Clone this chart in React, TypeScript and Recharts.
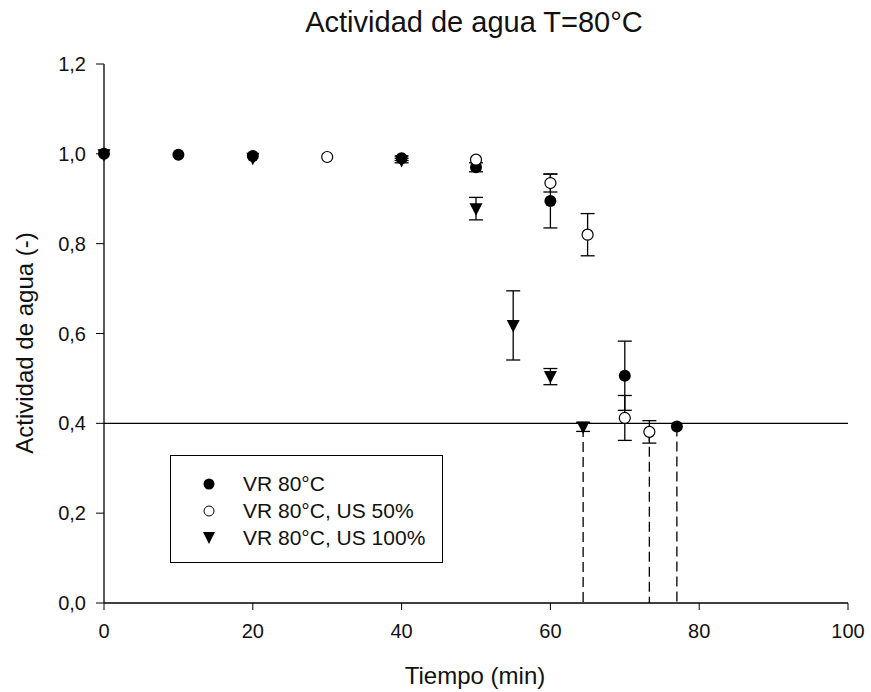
import React from "react";
import {
  ScatterChart,
  Scatter,
  XAxis,
  YAxis,
  ErrorBar,
  ReferenceLine,
  Legend,
} from "recharts";

// tiempo (min), actividad de agua (-), error (+/-)
const vrTime = [0, 10, 20, 40, 50, 60, 70, 77];
const vrAw = [1.0, 0.998, 0.995, 0.99, 0.97, 0.895, 0.506, 0.393];
const vrErr = [null, null, null, 0.005, 0.01, 0.06, 0.077, null];

const us50Time = [30, 50, 60, 65, 70, 73.3];
const us50Aw = [0.993, 0.987, 0.935, 0.82, 0.412, 0.381];
const us50Err = [null, null, 0.02, 0.047, 0.05, 0.025];

const us100Time = [0, 20, 40, 50, 55, 60, 64.4];
const us100Aw = [0.998, 0.99, 0.985, 0.878, 0.618, 0.504, 0.392];
const us100Err = [null, null, 0.005, 0.025, 0.077, 0.018, 0.01];

// tiempo en que se alcanza aw = 0,4
const endTime = [64.4, 73.3, 77];
const endAw = [0.392, 0.381, 0.393];

const limitAw = 0.4;
const xTicks = [0, 20, 40, 60, 80, 100];
const yTicks = [0, 0.2, 0.4, 0.6, 0.8, 1.0, 1.2];

const seriesNames = ["VR 80°C", "VR 80°C, US 50%", "VR 80°C, US 100%"];

const FONT = '"Liberation Sans", Arial, sans-serif';

const toRows = (t: number[], aw: number[], err: (number | null)[]) =>
  t.map((x, i) => ({ t: x, aw: aw[i], err: err[i] }));

const vrData = toRows(vrTime, vrAw, vrErr);
const us50Data = toRows(us50Time, us50Aw, us50Err);
const us100Data = toRows(us100Time, us100Aw, us100Err);

const FilledDot = (p: any) => <circle cx={p.cx} cy={p.cy} r={6} fill="#000" />;
const OpenDot = (p: any) => (
  <circle cx={p.cx} cy={p.cy} r={5.5} fill="#fff" stroke="#000" strokeWidth={1.2} />
);
const DownTri = (p: any) => (
  <path
    d={`M${p.cx - 6.5},${p.cy - 5.5} L${p.cx + 6.5},${p.cy - 5.5} L${p.cx},${p.cy + 7} Z`}
    fill="#000"
  />
);

function LegendBox() {
  const icons = [
    <circle cx={10} cy={10} r={5.5} fill="#000" />,
    <circle cx={10} cy={10} r={5} fill="#fff" stroke="#000" strokeWidth={1} />,
    <path d="M4,4 L16,4 L10,16 Z" fill="#000" />,
  ];
  return (
    <div
      style={{
        border: "1px solid #000",
        background: "#fff",
        width: 273,
        height: 108,
        boxSizing: "border-box",
        paddingTop: 14,
        fontFamily: FONT,
        fontSize: 21,
        color: "#111",
      }}
    >
      {seriesNames.map((name, i) => (
        <div key={name} style={{ display: "flex", alignItems: "center", height: 27 }}>
          <svg width={20} height={20} style={{ marginLeft: 28, marginRight: 24 }}>
            {icons[i]}
          </svg>
          <span>{name}</span>
        </div>
      ))}
    </div>
  );
}

export default function App() {
  return (
    <div style={{ position: "absolute", left: 0, top: 0, width: 871, height: 692, background: "#fff" }}>
      <ScatterChart
        width={871}
        height={692}
        margin={{ top: 64, right: 23, bottom: 0, left: 0 }}
      >
        <XAxis
          type="number"
          dataKey="t"
          domain={[0, 100]}
          ticks={xTicks}
          height={89}
          tickSize={7}
          tickMargin={14}
          axisLine={{ stroke: "#000", strokeWidth: 1.3 }}
          tickLine={{ stroke: "#000" }}
          tick={{ fill: "#111", fontSize: 20, fontFamily: FONT }}
        />
        <YAxis
          type="number"
          dataKey="aw"
          domain={[0, 1.2]}
          ticks={yTicks}
          width={104}
          tickSize={8}
          tickMargin={10}
          axisLine={{ stroke: "#000", strokeWidth: 1.3 }}
          tickLine={{ stroke: "#000" }}
          tick={{ fill: "#111", fontSize: 20, fontFamily: FONT }}
          tickFormatter={(v: number) => v.toFixed(1).replace(".", ",")}
        />
        <ReferenceLine y={limitAw} stroke="#000" strokeWidth={1.3} />
        {endTime.map((x, i) => (
          <ReferenceLine
            key={x}
            segment={[
              { x, y: endAw[i] },
              { x, y: 0 },
            ]}
            stroke="#000"
            strokeWidth={1.3}
            strokeDasharray="10 5"
          />
        ))}
        <Scatter name={seriesNames[2]} data={us100Data} shape={DownTri} isAnimationActive={false}>
          <ErrorBar dataKey="err" direction="y" width={7} stroke="#000" strokeWidth={1.3} />
        </Scatter>
        <Scatter name={seriesNames[0]} data={vrData} shape={FilledDot} isAnimationActive={false}>
          <ErrorBar dataKey="err" direction="y" width={7} stroke="#000" strokeWidth={1.3} />
        </Scatter>
        <Scatter name={seriesNames[1]} data={us50Data} shape={OpenDot} isAnimationActive={false}>
          <ErrorBar dataKey="err" direction="y" width={7} stroke="#000" strokeWidth={1.3} />
        </Scatter>
        <Legend
          layout="horizontal"
          verticalAlign="middle"
          content={() => <LegendBox />}
          wrapperStyle={{ position: "absolute", left: 170, top: 455, width: 273, height: 108 }}
        />
      </ScatterChart>
      <svg
        width={871}
        height={692}
        style={{ position: "absolute", left: 0, top: 0, pointerEvents: "none" }}
        fontFamily={FONT}
        fill="#111"
      >
        <text x={474} y={32} textAnchor="middle" fontSize={29}>
          Actividad de agua T=80°C
        </text>
        <text x={475} y={684} textAnchor="middle" fontSize={24}>
          Tiempo (min)
        </text>
        <text
          x={33}
          y={343}
          textAnchor="middle"
          fontSize={24}
          transform="rotate(-90 33 343)"
        >
          Actividad de agua (-)
        </text>
      </svg>
    </div>
  );
}
